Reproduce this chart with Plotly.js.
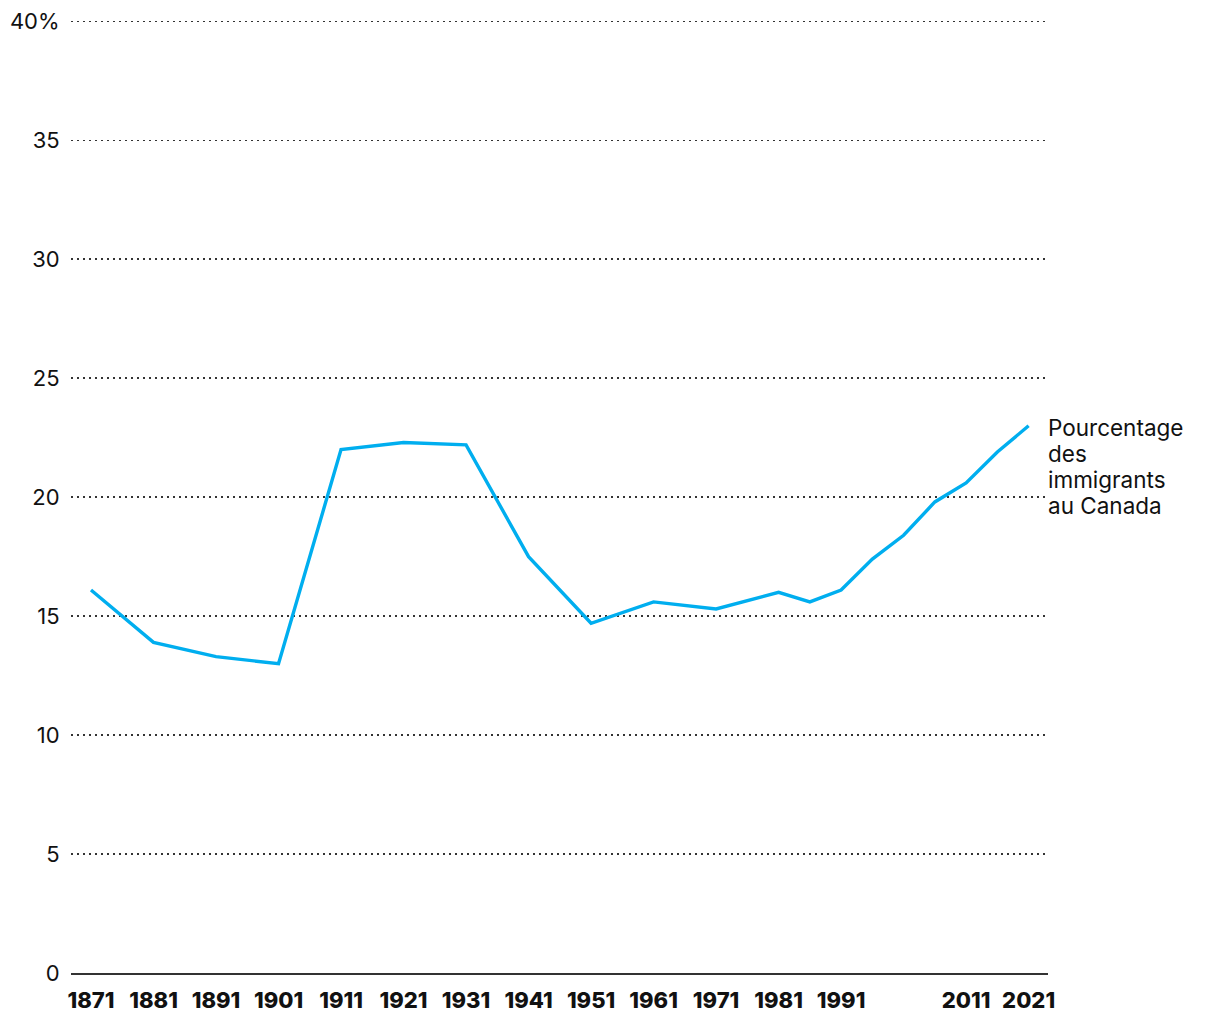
<!DOCTYPE html>
<html><head><meta charset="utf-8">
<script src="https://cdn.plot.ly/plotly-3.0.1.min.js"></script>
<style>body{margin:0;background:#fff}#c{width:1220px;height:1020px}</style>
</head><body><div id="c"></div>
<script>
const years = [1871,1881,1891,1901,1911,1921,1931,1941,1951,1961,1971,1981,1986,1991,1996,2001,2006,2011,2016,2021];
const pctImmigrants = [16.1,13.9,13.3,13.0,22.0,22.3,22.2,17.5,14.7,15.6,15.3,16.0,15.6,16.1,17.4,18.4,19.8,20.6,21.9,23.0];
const xTickVals = [1871,1881,1891,1901,1911,1921,1931,1941,1951,1961,1971,1981,1991,2011,2021];
const yTickVals = [0,5,10,15,20,25,30,35,40];
const yTickText = ['0','5','10','15','20','25','30','35','40%'];
const labelLines = ['Pourcentage','des','immigrants','au Canada'];

const font = 'Inter, "Open Sans", sans-serif';
const annotations = labelLines.map((t, i) => ({
  x: years[years.length-1], y: pctImmigrants[pctImmigrants.length-1], xref: 'x', yref: 'y',
  text: t, showarrow: false, xanchor: 'left', yanchor: 'middle', align: 'left',
  xshift: 17, yshift: -2 - i*26,
  font: {family: font, size: 22.5, color: '#111'}
}));
Plotly.newPlot('c', [{
  x: years, y: pctImmigrants, type: 'scatter', mode: 'lines',
  line: {color: '#00aeef', width: 3.4}, hoverinfo: 'skip'
}], {
  width: 1220, height: 1020,
  margin: {l: 71, r: 172, t: 19, b: 47},
  paper_bgcolor: '#fff', plot_bgcolor: '#fff',
  showlegend: false,
  font: {family: font, color: '#111', size: 19},
  xaxis: {
    range: [1867.8, 2024.1], tickvals: xTickVals, ticktext: xTickVals.map(String),
    showgrid: false, zeroline: false, showline: true, linecolor: '#333', linewidth: 2,
    ticks: 'outside', ticklen: 7, tickcolor: 'rgba(0,0,0,0)',
    tickfont: {family: font, size: 22, color: '#111', weight: 800}
  },
  yaxis: {
    range: [0, 40.1], tickvals: yTickVals, ticktext: yTickText,
    showgrid: true, gridcolor: '#333', gridwidth: 1.6, griddash: '1.6px,4.4px',
    zeroline: false, showline: false,
    ticks: 'outside', ticklen: 6, tickcolor: 'rgba(0,0,0,0)',
    tickfont: {family: font, size: 22, color: '#111'}
  },
  annotations: annotations
}, {displayModeBar: false, staticPlot: true});
</script></body></html>
